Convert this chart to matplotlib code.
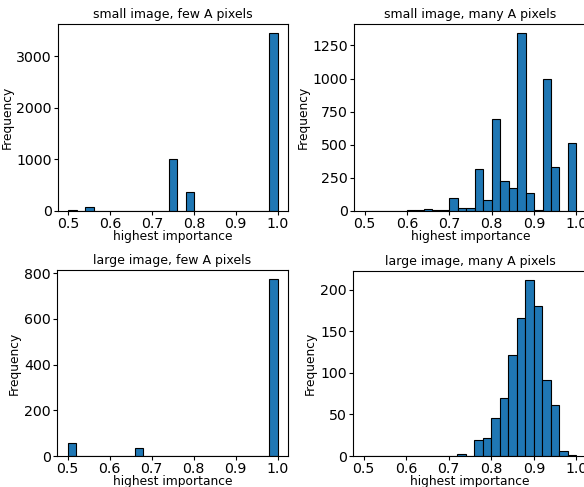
import matplotlib
matplotlib.use("Agg")
import matplotlib.pyplot as plt
import numpy as np

# 25 bins of width 0.02 between 0.5 and 1.0
edges = np.linspace(0.5, 1.0, 26)
centers = (edges[:-1] + edges[1:]) / 2

titles = ["small image, few A pixels", "small image, many A pixels",
          "large image, few A pixels", "large image, many A pixels"]

small_few = [12, 0, 75, 0, 0, 0, 0, 8, 0, 0, 0, 0, 1015, 0, 370, 8,
             0, 0, 0, 0, 0, 0, 0, 0, 3450]
small_many = [0, 0, 0, 0, 0, 4, 5, 15, 10, 10, 95, 25, 23, 315, 80, 695,
              228, 175, 1345, 135, 5, 995, 335, 0, 510]
large_few = [55, 0, 0, 0, 0, 0, 0, 0, 35, 0, 0, 0, 0, 0, 0, 0,
             0, 0, 0, 0, 0, 0, 0, 0, 775]
large_many = [0, 0, 0, 0, 0, 0, 0, 0, 0, 0, 0, 3, 0, 19, 22, 46,
              70, 121, 166, 212, 180, 92, 61, 6, 1]

counts = [small_few, small_many, large_few, large_many]

fig = plt.figure(figsize=(5.84, 4.87), dpi=100)
W, H = 584, 487
# axes boxes in pixels: left, top, right, bottom
boxes = [(58, 24, 288, 211), (354, 24, 587, 211),
         (57, 270, 288, 456), (353, 271, 587, 456)]

for box, t, c in zip(boxes, titles, counts):
    l, tp, r, b = box
    ax = fig.add_axes([l / W, (H - b) / H, (r - l) / W, (b - tp) / H])
    ax.hist(centers, bins=edges, weights=c, color='#1f77b4',
            edgecolor='black', linewidth=0.8)
    ax.set_title(t, fontsize=9, pad=4)
    ax.set_xlabel('highest importance', fontsize=8.8, labelpad=-1)
    ax.set_ylabel('Frequency', fontsize=8.8, labelpad=2)
    ax.set_xticks([0.5, 0.6, 0.7, 0.8, 0.9, 1.0])
    ax.tick_params(labelsize=10.2, length=3, pad=1.5)

fig.savefig('out.png', dpi=100)
